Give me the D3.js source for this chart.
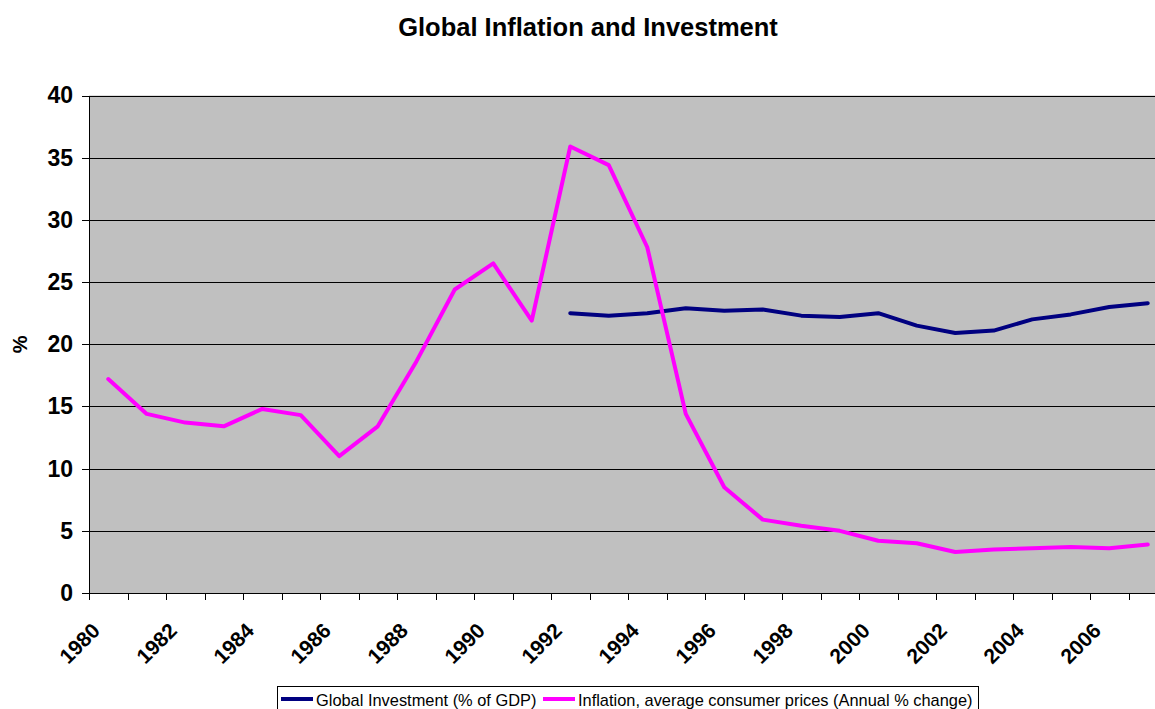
<!DOCTYPE html>
<html>
<head>
<meta charset="utf-8">
<script src="https://cdn.jsdelivr.net/npm/d3@7"></script>
<style>
  html, body { margin: 0; padding: 0; background: #fff; }
  svg { display: block; font-family: Arial, "Liberation Sans", sans-serif; }
</style>
</head>
<body>
<svg id="chart"></svg>
<script>
// Global Inflation and Investment — two series by year, 1980–2007
const YEARS = d3.range(1980, 2008);
const INFLATION = [17.2, 14.4, 13.7, 13.4, 14.8, 14.3, 11.0, 13.4, 18.6, 24.4,
                   26.5, 21.9, 35.9, 34.4, 27.8, 14.4, 8.5, 5.9, 5.4, 5.0,
                   4.2, 4.0, 3.3, 3.5, 3.6, 3.7, 3.6, 3.9];
const INVESTMENT = [null, null, null, null, null, null, null, null, null, null,
                    null, null, 22.5, 22.3, 22.5, 22.9, 22.7, 22.8, 22.3, 22.2,
                    22.5, 21.5, 20.9, 21.1, 22.0, 22.4, 23.0, 23.3];
const Y_TICKS = [0, 5, 10, 15, 20, 25, 30, 35, 40];
const SERIES = [
    { name: 'Global Investment (% of GDP)', values: INVESTMENT, color: '#000080' },
    { name: 'Inflation, average consumer prices (Annual % change)', values: INFLATION, color: '#FF00FF' },
];

const W = 1155, H = 709;
const MARGIN = { top: 95.5, left: 89 };
const iW = 1078, iH = 497.5;

const svg = d3.select('#chart').attr('width', W).attr('height', H);

svg.append('text')
    .attr('x', 588).attr('y', 36)
    .attr('text-anchor', 'middle')
    .attr('font-size', '25.5px').attr('font-weight', 'bold')
    .text('Global Inflation and Investment');

const g = svg.append('g').attr('transform', `translate(${MARGIN.left},${MARGIN.top})`);

// ── Scales ────────────────────────────────────────────────────────────────
const xBand = d3.scaleBand().domain(YEARS).range([0, iW]);
const xIdx = d3.scaleLinear().domain([0, YEARS.length]).range([0, iW]);
const y = d3.scaleLinear().domain([0, 40]).range([iH, 0]);

// plot background
g.append('rect').attr('width', iW).attr('height', iH).attr('fill', '#C0C0C0');

// gridlines
g.append('g')
    .call(d3.axisLeft(y).tickValues(Y_TICKS.filter(v => v > 0)).tickSize(-iW).tickFormat(''))
    .call(s => s.select('.domain').remove())
    .selectAll('line').attr('stroke', '#000').attr('stroke-width', 1)
    .attr('shape-rendering', 'crispEdges');

// y axis
const yAxis = g.append('g')
    .call(d3.axisLeft(y).tickValues(Y_TICKS).tickSize(7).tickPadding(9).tickSizeOuter(0));
yAxis.select('.domain').attr('stroke', '#000').attr('shape-rendering', 'crispEdges');
yAxis.selectAll('line').attr('shape-rendering', 'crispEdges');
yAxis.selectAll('text').attr('font-size', '23px').attr('font-weight', 'bold')
    .attr('font-family', 'Arial, "Liberation Sans", sans-serif').attr('fill', '#000');

// x axis ticks at category boundaries
const xTicks = g.append('g').attr('transform', `translate(0,${iH})`)
    .call(d3.axisBottom(xIdx).tickValues(d3.range(YEARS.length + 1)).tickSize(7).tickFormat('').tickSizeOuter(0));
xTicks.select('.domain').attr('stroke', '#000').attr('shape-rendering', 'crispEdges');
xTicks.selectAll('line').attr('shape-rendering', 'crispEdges');

// x labels, every other year, rotated
const xLab = g.append('g').attr('transform', `translate(0,${iH})`)
    .call(d3.axisBottom(xBand).tickValues(YEARS.filter(v => v % 2 === 0)).tickSize(0).tickPadding(0));
xLab.select('.domain').remove();
xLab.selectAll('text')
    .attr('font-size', '21px').attr('font-weight', 'bold')
    .attr('font-family', 'Arial, "Liberation Sans", sans-serif').attr('fill', '#000')
    .attr('text-anchor', 'end')
    .attr('dy', null).attr('y', 0)
    .attr('transform', 'translate(-7,39) rotate(-45)');

// y axis title
svg.append('text')
    .attr('transform', `translate(27,${MARGIN.top + iH / 2}) rotate(-90)`)
    .attr('text-anchor', 'middle')
    .attr('font-size', '20px').attr('font-weight', 'bold')
    .text('%');

// ── Lines ─────────────────────────────────────────────────────────────────
const line = d3.line()
    .defined(d => d.v != null)
    .x(d => xBand(d.year) + xBand.bandwidth() / 2)
    .y(d => y(d.v));

SERIES.forEach(s => {
    g.append('path')
        .datum(YEARS.map((yr, i) => ({ year: yr, v: s.values[i] })))
        .attr('d', line)
        .attr('fill', 'none')
        .attr('stroke', s.color)
        .attr('stroke-width', 4)
        .attr('stroke-linejoin', 'round')
        .attr('stroke-linecap', 'round');
});

// ── Legend ────────────────────────────────────────────────────────────────
const leg = svg.append('g');
leg.append('rect')
    .attr('x', 277.5).attr('y', 686.5).attr('width', 701).attr('height', 30)
    .attr('fill', '#fff').attr('stroke', '#000');
const legX = [281, 543];
SERIES.forEach((s, i) => {
    leg.append('line')
        .attr('x1', legX[i]).attr('x2', legX[i] + 32)
        .attr('y1', 699).attr('y2', 699)
        .attr('stroke', s.color).attr('stroke-width', 4);
    leg.append('text')
        .attr('x', legX[i] + 35).attr('y', 705.5)
        .attr('font-size', '16.4px')
        .text(s.name);
});
</script>
</body>
</html>
